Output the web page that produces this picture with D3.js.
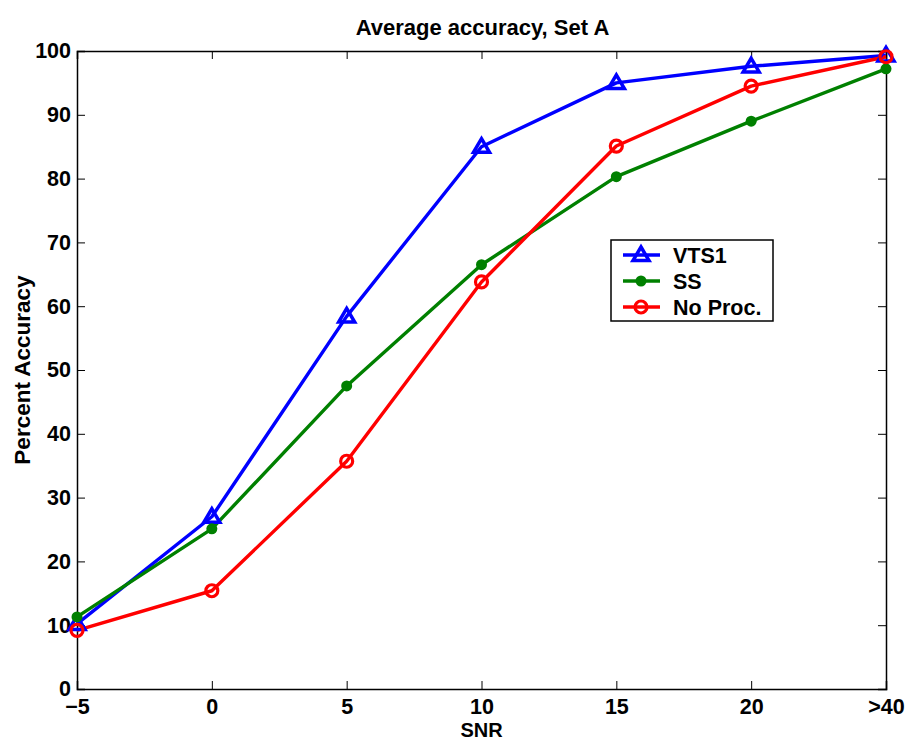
<!DOCTYPE html>
<html><head><meta charset="utf-8">
<script src="https://cdn.jsdelivr.net/npm/d3@7/dist/d3.min.js"></script>
<style>body{margin:0;background:#fff}svg{display:block}text{font-family:"Liberation Sans",Arial,Helvetica,sans-serif;font-weight:bold}</style>
</head><body><svg id="c" width="906" height="740"></svg>
<script>
const categories = ["\u22125","0","5","10","15","20",">40"];
const vts1 = [10.2, 27.0, 58.4, 85.0, 95.0, 97.6, 99.3];
const ss = [11.3, 25.1, 47.5, 66.5, 80.3, 89.0, 97.2];
const noProc = [9.2, 15.4, 35.7, 63.8, 85.1, 94.5, 99.1];
const yTicks = [0,10,20,30,40,50,60,70,80,90,100];
const seriesNames = ["VTS1","SS","No Proc."];

const svg = d3.select("#c");
const L=77, R=886, T=51, B=689;
const x = d3.scalePoint().domain(categories).range([L,R]);
const y = d3.scaleLinear().domain([0,100]).range([B,T]);

svg.append("rect").attr("width",906).attr("height",740).attr("fill","#fff");

const fs = 21.5;
const ax = svg.append("g").attr("transform",`translate(0,${B})`)
  .call(d3.axisBottom(x).tickSize(-8).tickPadding(10));
const axT = svg.append("g").attr("transform",`translate(0,${T})`)
  .call(d3.axisTop(x).tickSize(-8).tickFormat(""));
const ay = svg.append("g").attr("transform",`translate(${L},0)`)
  .call(d3.axisLeft(y).tickValues(yTicks).tickSize(-8).tickPadding(6));
const ayR = svg.append("g").attr("transform",`translate(${R},0)`)
  .call(d3.axisRight(y).tickValues(yTicks).tickSize(-8).tickFormat(""));
[ax,axT,ay,ayR].forEach(g=>{
  g.select(".domain").attr("stroke","#000").attr("stroke-width",1.5);
  g.selectAll(".tick line").attr("stroke","#000").attr("stroke-width",1);
  g.selectAll("text").attr("fill","#000").style("font-size",fs+"px")
   .style("font-family",'"Liberation Sans",Arial,sans-serif').style("font-weight","bold");
});
ax.selectAll(".tick text").attr("dy","0.71em");

svg.append("text").attr("x",(L+R)/2+1).attr("y",35).attr("text-anchor","middle").style("font-size","22px").text("Average accuracy, Set A");
svg.append("text").attr("x",(L+R)/2).attr("y",737).attr("text-anchor","middle").style("font-size","20px").text("SNR");
svg.append("text").attr("transform",`translate(30,370) rotate(-90)`).attr("text-anchor","middle").style("font-size","22.5px").text("Percent Accuracy");

const line = d3.line().x((d,i)=>x(categories[i])).y(d=>y(d));
const colors = ["#0000ff","#008000","#ff0000"];
const data = [vts1, ss, noProc];

function marker(g, type, cx, cy, color){
  if(type===0){
    const s=8;
    g.append("path").attr("d",`M${cx},${cy-s}L${cx+s},${cy+s*0.7}L${cx-s},${cy+s*0.7}Z`)
     .attr("fill","none").attr("stroke",color).attr("stroke-width",3.5).attr("stroke-linejoin","miter");
  } else if(type===1){
    g.append("circle").attr("cx",cx).attr("cy",cy).attr("r",5.5).attr("fill",color);
  } else {
    g.append("circle").attr("cx",cx).attr("cy",cy).attr("r",6).attr("fill","none").attr("stroke",color).attr("stroke-width",3.2);
  }
}

data.forEach((vals,k)=>{
  svg.append("path").datum(vals).attr("d",line).attr("fill","none")
    .attr("stroke",colors[k]).attr("stroke-width",3.4).attr("stroke-linejoin","round");
});
data.forEach((vals,k)=>{
  const g=svg.append("g");
  vals.forEach((v,i)=>marker(g,k,x(categories[i]),y(v),colors[k]));
});

const lg = svg.append("g");
lg.append("rect").attr("x",611).attr("y",240).attr("width",162).attr("height",81)
  .attr("fill","#fff").attr("stroke","#000").attr("stroke-width",1.5);
seriesNames.forEach((n,k)=>{
  const yy = 255 + k*26;
  lg.append("line").attr("x1",623).attr("x2",660).attr("y1",yy).attr("y2",yy)
    .attr("stroke",colors[k]).attr("stroke-width",3.4);
  marker(lg,k,641,yy,colors[k]);
  lg.append("text").attr("x",673).attr("y",yy).attr("dy","0.36em").style("font-size",fs+"px").text(n);
});
</script></body></html>
